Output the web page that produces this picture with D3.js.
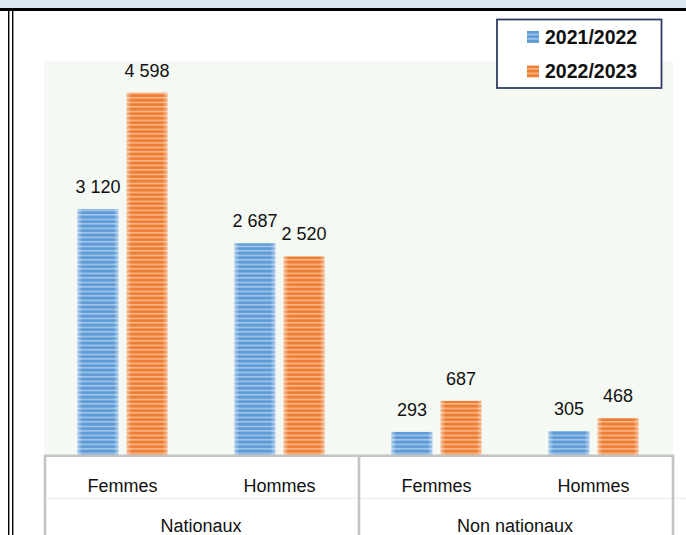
<!DOCTYPE html>
<html>
<head>
<meta charset="utf-8">
<script src="https://d3js.org/d3.v7.min.js"></script>
<style>
  body { margin: 0; background: #fff; }
  svg { display: block; }
  text { font-family: "Liberation Sans", Arial, sans-serif; fill: #111; }
</style>
</head>
<body>
<script>
var groups = ["Nationaux", "Non nationaux"];
var genders = ["Femmes", "Hommes"];
var series = ["2021/2022", "2022/2023"];
var values2122 = [3120, 2687, 293, 305];
var values2223 = [4598, 2520, 687, 468];
var yDomain = [0, 5000];

var colors = { "2021/2022": ["#5d9ad6", "#a9cbec"], "2022/2023": ["#ee7d33", "#f7bd92"] };

var cats = [];
groups.forEach(function(g) { genders.forEach(function(s) { cats.push(g + "|" + s); }); });
var rows = cats.map(function(c, i) {
  return { cat: c, vals: [{ s: series[0], v: values2122[i] }, { s: series[1], v: values2223[i] }] };
});

var W = 686, H = 535;
var plotLeft = 44, plotRight = 672, plotTop = 61, base = 455;

var fr = d3.formatLocale({ decimal: ",", thousands: " ", grouping: [3], currency: ["", " €"] });
var fmt = fr.format(",d");

var svg = d3.select("body").append("svg").attr("width", W).attr("height", H);

var defs = svg.append("defs");
series.forEach(function(s, i) {
  var p = defs.append("pattern").attr("id", "pat" + i)
    .attr("patternUnits", "userSpaceOnUse").attr("width", 8).attr("height", 4.5);
  p.append("rect").attr("width", 8).attr("height", 4.5).attr("fill", colors[s][0]);
  p.append("rect").attr("y", 2.6).attr("width", 8).attr("height", 1.5).attr("fill", colors[s][1]);
});
var glow = defs.append("linearGradient").attr("id", "glow").attr("x1", 0).attr("x2", 1).attr("y1", 0).attr("y2", 0);
glow.append("stop").attr("offset", "0").attr("stop-color", "#fff").attr("stop-opacity", 0.45);
glow.append("stop").attr("offset", "0.12").attr("stop-color", "#fff").attr("stop-opacity", 0);
glow.append("stop").attr("offset", "0.88").attr("stop-color", "#fff").attr("stop-opacity", 0);
glow.append("stop").attr("offset", "1").attr("stop-color", "#fff").attr("stop-opacity", 0.45);

// page frame bits
svg.append("rect").attr("x", 0).attr("y", 0).attr("width", W).attr("height", 8).attr("fill", "#dde8f4");
svg.append("rect").attr("x", 0).attr("y", 8).attr("width", W).attr("height", 3).attr("fill", "#000");
svg.append("rect").attr("x", 8).attr("y", 8).attr("width", 1.4).attr("height", H).attr("fill", "#000");
svg.append("rect").attr("x", 12).attr("y", 8).attr("width", 1.4).attr("height", H).attr("fill", "#000");

// plot area
svg.append("rect").attr("x", plotLeft).attr("y", plotTop).attr("width", plotRight - plotLeft + 1).attr("height", base - plotTop)
  .attr("fill", "#f5f9f3");

var x0 = d3.scaleBand().domain(cats).range([plotLeft, plotRight]).paddingInner(0.427).paddingOuter(0.2135);
var x1 = d3.scaleBand().domain(series).range([0, x0.bandwidth()]).paddingInner(0.17);
var y = d3.scaleLinear().domain(yDomain).range([base, plotTop]);

var g = svg.selectAll(".grp").data(rows).enter().append("g")
  .attr("transform", function(d) { return "translate(" + x0(d.cat) + ",0)"; });

var bars = g.selectAll("g.bar").data(function(d) { return d.vals; }).enter().append("g").attr("class", "bar");
bars.append("rect")
  .attr("x", function(d) { return x1(d.s); })
  .attr("y", function(d) { return y(d.v); })
  .attr("width", x1.bandwidth())
  .attr("height", function(d) { return base - y(d.v); })
  .attr("fill", function(d) { return "url(#pat" + series.indexOf(d.s) + ")"; });
bars.append("rect")
  .attr("x", function(d) { return x1(d.s); })
  .attr("y", function(d) { return y(d.v); })
  .attr("width", x1.bandwidth())
  .attr("height", function(d) { return base - y(d.v); })
  .attr("fill", "url(#glow)");
bars.append("text")
  .attr("x", function(d) { return x1(d.s) + x1.bandwidth() / 2; })
  .attr("y", function(d) { return y(d.v) - 16; })
  .attr("text-anchor", "middle")
  .style("font-size", "18px")
  .text(function(d) { return fmt(d.v); });

// category axis
svg.append("rect").attr("x", plotLeft).attr("y", base + 2).attr("width", plotRight - plotLeft + 2).attr("height", H).attr("fill", "#fff");
svg.append("line").attr("x1", plotLeft).attr("x2", W).attr("y1", 498.5).attr("y2", 498.5)
  .attr("stroke", "#ececec").attr("stroke-width", 1);

var xAxis = d3.axisBottom(x0).tickSize(0).tickPadding(0)
  .tickFormat(function(d) { return d.split("|")[1]; });
var ax = svg.append("g").attr("transform", "translate(0," + base + ")").call(xAxis);
ax.select(".domain").remove();
ax.selectAll("text").attr("dy", null).attr("y", 37).style("font-size", "18px")
  .style("font-family", "'Liberation Sans', Arial, sans-serif").attr("fill", "#111");

var mid = (plotLeft + plotRight) / 2;
var seps = [plotLeft, mid, plotRight];
svg.selectAll(".sep").data(seps).enter().append("line")
  .attr("x1", function(d) { return d + 1; }).attr("x2", function(d) { return d + 1; })
  .attr("y1", base).attr("y2", H)
  .attr("stroke", "#c4c4c4").attr("stroke-width", 2.6);
svg.append("line").attr("x1", plotLeft).attr("x2", plotRight + 2.3).attr("y1", base + 0.8).attr("y2", base + 0.8)
  .attr("stroke", "#c4c4c4").attr("stroke-width", 2.6);

svg.selectAll(".grpLabel").data(groups).enter().append("text")
  .attr("x", function(d, i) { return i == 0 ? (plotLeft + mid) / 2 : (mid + plotRight) / 2; })
  .attr("y", 532)
  .attr("text-anchor", "middle")
  .style("font-size", "18px")
  .text(function(d) { return d; });

// legend
var lg = svg.append("g");
lg.append("rect").attr("x", 497).attr("y", 19.5).attr("width", 164.5).attr("height", 68.5)
  .attr("fill", "#fff").attr("stroke", "#2e3d66").attr("stroke-width", 1.8);
var li = lg.selectAll(".li").data(series).enter().append("g")
  .attr("transform", function(d, i) { return "translate(527," + (31 + i * 34.5) + ")"; });
li.append("rect").attr("width", 12).attr("height", 12)
  .attr("fill", function(d, i) { return "url(#pat" + i + ")"; });
li.append("text").attr("x", 18).attr("y", 12.5)
  .style("font-size", "19.5px").style("font-weight", "bold")
  .text(function(d) { return d; });
</script>
</body>
</html>
